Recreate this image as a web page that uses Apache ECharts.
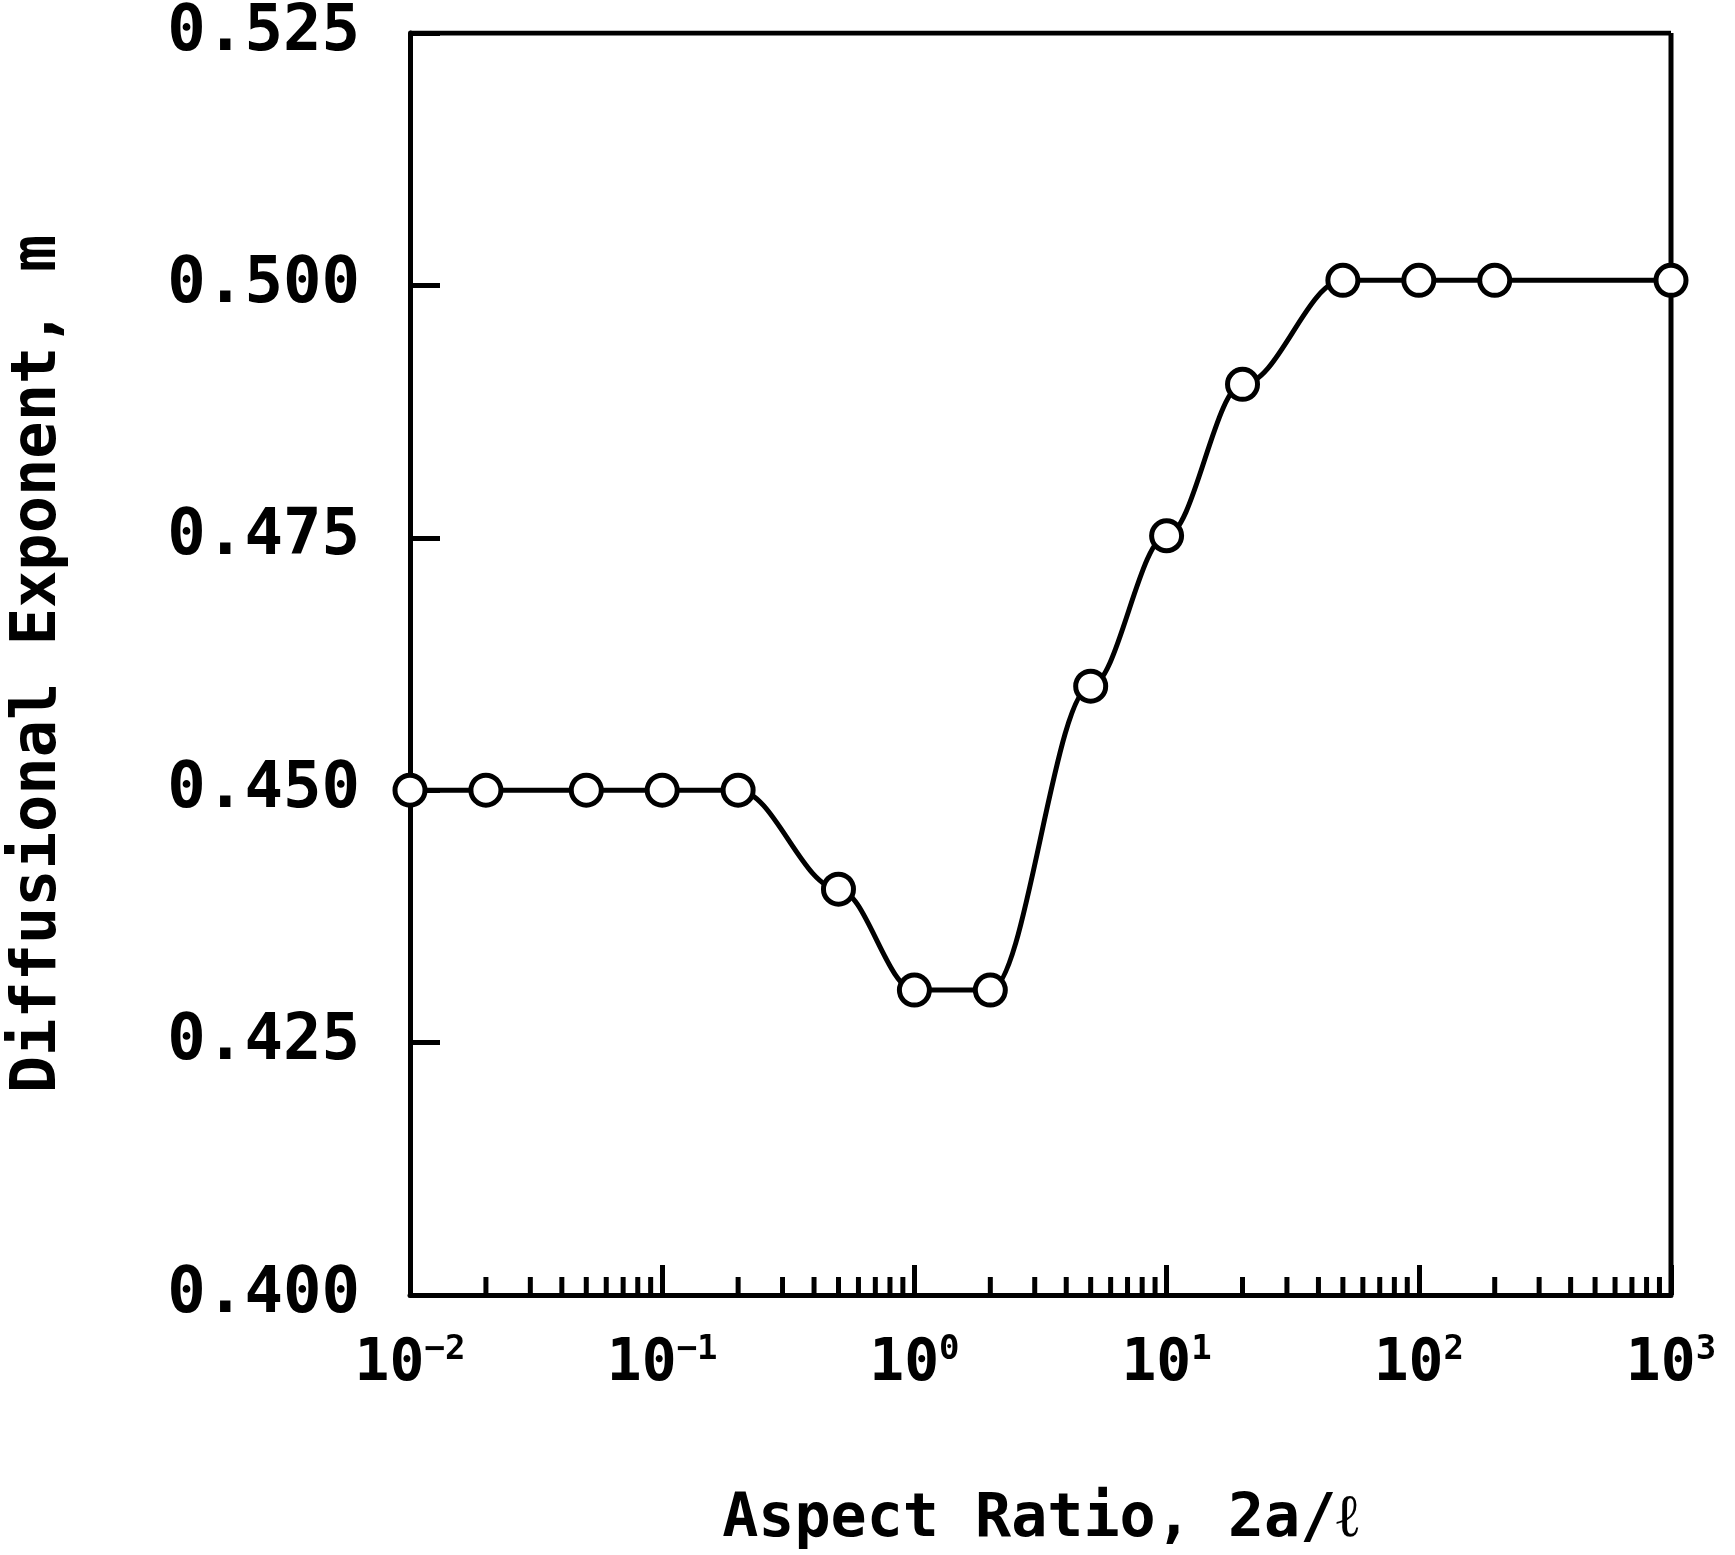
<!DOCTYPE html>
<html><head><meta charset="utf-8">
<script src="https://cdn.jsdelivr.net/npm/echarts@6/dist/echarts.min.js"></script>
<style>html,body{margin:0;background:#fff}#c{width:1735px;height:1555px}</style>
</head><body><div id="c"></div>
<script>
// Data
var aspectRatio = [0.01, 0.02, 0.05, 0.1, 0.2, 0.5, 1, 2, 5, 10, 20, 50, 100, 200, 1000];
var exponent = [0.450, 0.450, 0.450, 0.450, 0.450, 0.4402, 0.4302, 0.4302, 0.4603, 0.4752, 0.4902, 0.5005, 0.5005, 0.5005, 0.5005];
var decades = [0.01, 0.1, 1, 10, 100];
var minorSteps = [2, 3, 4, 5, 6, 7, 8, 9];

var minorTicks = [];
decades.forEach(function (d) {
  minorSteps.forEach(function (s) { minorTicks.push([d * s, 0.4]); });
});

var chart = echarts.init(document.getElementById('c'), null, { renderer: 'canvas' });
var font = '"DejaVu Sans Mono", monospace';
var supMap = { '-2': '−2', '-1': '−1', '0': '0', '1': '1', '2': '2', '3': '3' };

chart.setOption({
  animation: false,
  grid: { left: 393, right: 64, top: 33, bottom: 241 },
  xAxis: {
    type: 'log', min: 0.01, max: 1000, logBase: 10,
    name: 'Aspect Ratio, 2a/ℓ', nameLocation: 'middle', nameGap: 195,
    nameTextStyle: { fontFamily: font, fontWeight: 'bold', fontSize: 60, color: '#000' },
    axisLine: { lineStyle: { color: '#000', width: 5 } },
    axisTick: { inside: true, length: 30, lineStyle: { color: '#000', width: 5 } },
    splitLine: { show: false },
    axisLabel: {
      margin: 38,
      formatter: function (v) {
        var e = Math.round(Math.log10(v));
        return '{b|10}{s|' + supMap[String(e)] + '}';
      },
      rich: {
        b: { fontFamily: font, fontWeight: 'bold', fontSize: 58, color: '#000' },
        s: { fontFamily: font, fontWeight: 'bold', fontSize: 34, color: '#000', verticalAlign: 'top', padding: [0, 0, 30, 0] }
      }
    }
  },
  yAxis: {
    type: 'value', min: 0.4, max: 0.525, interval: 0.025,
    name: 'Diffusional Exponent, m', nameLocation: 'middle', nameGap: 340,
    nameTextStyle: { fontFamily: font, fontWeight: 'bold', fontSize: 62, color: '#000' },
    axisLine: { lineStyle: { color: '#000', width: 5 } },
    axisTick: { inside: true, length: 30, lineStyle: { color: '#000', width: 5 } },
    splitLine: { show: false },
    axisLabel: {
      margin: 50, fontFamily: font, fontWeight: 'bold', fontSize: 64, color: '#000',
      formatter: function (v) { return v.toFixed(3); }
    }
  },
  series: [
    {
      type: 'line', data: aspectRatio.map(function (x, i) { return [x, exponent[i]]; }),
      smooth: 0.35, smoothMonotone: 'x',
      symbol: 'circle', symbolSize: 30,
      lineStyle: { color: '#000', width: 5 },
      itemStyle: { color: '#fff', borderColor: '#000', borderWidth: 5 },
      z: 3
    },
    {
      type: 'custom', data: minorTicks, silent: true,
      renderItem: function (params, api) {
        var p = api.coord([api.value(0), api.value(1)]);
        return { type: 'line', shape: { x1: p[0], y1: p[1], x2: p[0], y2: p[1] - 18 },
          style: { stroke: '#000', lineWidth: 5 } };
      }
    },
    {
      type: 'line', data: [[0.01, 0.525], [1000, 0.525]], symbol: 'none',
      lineStyle: { color: '#000', width: 5 }, silent: true
    },
    {
      type: 'line', data: [[1000, 0.4], [1000, 0.525]], symbol: 'none',
      lineStyle: { color: '#000', width: 5 }, silent: true
    }
  ]
});
</script></body></html>
